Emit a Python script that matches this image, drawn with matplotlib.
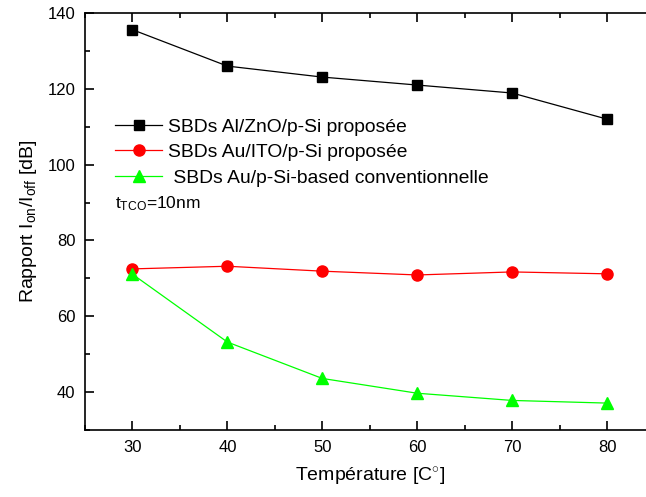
import matplotlib
matplotlib.use('Agg')
import matplotlib.pyplot as plt
from matplotlib.ticker import MultipleLocator

plt.rcParams['font.family'] = ['Liberation Sans', 'DejaVu Sans']
plt.rcParams['mathtext.fontset'] = 'custom'
plt.rcParams['mathtext.rm'] = 'Liberation Sans'
plt.rcParams['mathtext.it'] = 'Liberation Sans:italic'

temp = [30, 40, 50, 60, 70, 80]
al_zno = [135.6, 126.0, 123.1, 121.0, 118.9, 112.0]
au_ito = [72.5, 73.2, 71.9, 70.9, 71.7, 71.2]
au_conv = [71.1, 53.2, 43.6, 39.7, 37.8, 37.1]

fig = plt.figure(figsize=(6.46, 4.97), dpi=100)
# the frame runs past the right edge of the figure
ax = fig.add_axes([0.1316, 0.1348, 0.8816, 0.839])

ax.plot(temp, al_zno, color='black', lw=0.9, marker='s', ms=7,
        label='SBDs Al/ZnO/p-Si proposée')
ax.plot(temp, au_ito, color='#ff0000', lw=0.9, marker='o', ms=8,
        label='SBDs Au/ITO/p-Si proposée')
ax.plot(temp, au_conv, color='#00ff00', lw=0.9, marker='^', ms=8,
        label=' SBDs Au/p-Si-based conventionnelle')

ax.set_xlim(25, 85)
ax.set_ylim(30, 140)
ax.xaxis.set_major_locator(MultipleLocator(10))
ax.xaxis.set_minor_locator(MultipleLocator(5))
ax.yaxis.set_major_locator(MultipleLocator(20))
ax.yaxis.set_minor_locator(MultipleLocator(10))
ax.tick_params(which='both', direction='in', top=True, right=True, width=1.2)
ax.tick_params(which='major', length=6.5, labelsize=12, pad=7)
ax.tick_params(which='minor', length=3.6)
for s in ax.spines.values():
    s.set_linewidth(1.2)

ax.set_xlabel('Température [C$^{\\circ}$]', fontsize=14, labelpad=8)
ax.set_ylabel('Rapport I$_{\\mathrm{on}}$/I$_{\\mathrm{off}}$ [dB]',
              fontsize=14, labelpad=6)

ax.legend(loc='upper left', bbox_to_anchor=(0.0527, 0.748), frameon=False,
          fontsize=13.9, handlelength=2.45, handletextpad=0.3,
          labelspacing=0.42, borderpad=0, borderaxespad=0)
ax.text(0.0527, 0.532, 't$_{\\mathrm{TCO}}$=10nm', transform=ax.transAxes,
        fontsize=12.5, va='baseline')

fig.savefig('out.png', dpi=100)
